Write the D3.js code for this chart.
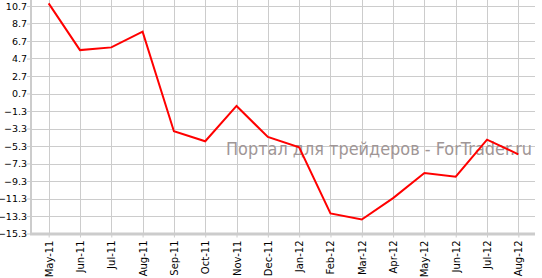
<!DOCTYPE html>
<html>
<head>
<meta charset="utf-8">
<script src="https://cdn.jsdelivr.net/npm/d3@7"></script>
<style>
  body { margin: 0; background: #fff; }
  svg { display: block; }
</style>
</head>
<body>
<div id="chart"></div>
<script>
const width = 542;
const height = 278;

// data
const months = ["May-11", "Jun-11", "Jul-11", "Aug-11", "Sep-11", "Oct-11", "Nov-11", "Dec-11",
  "Jan-12", "Feb-12", "Mar-12", "Apr-12", "May-12", "Jun-12", "Jul-12", "Aug-12"];
const values = [11.0, 5.66, 5.97, 7.76, -3.62, -4.76, -0.72, -4.27,
  -5.45, -13.01, -13.7, -11.26, -8.38, -8.81, -4.57, -6.25];
const yTicks = [10.7, 8.7, 6.7, 4.7, 2.7, 0.7, -1.3, -3.3, -5.3, -7.3, -9.3, -11.3, -13.3, -15.3];
const watermark = "Портал для трейдеров - ForTrader.ru";

const plotLeft = 31, plotRight = 535, plotTop = 6, plotBottom = 233.5;

const svg = d3.select("#chart")
  .append("svg")
  .attr("width", width)
  .attr("height", height);

const x = d3.scalePoint()
  .domain(months)
  .range([33, 534])
  .padding(0.5);

const y = d3.scaleLinear()
  .domain([-15.3, 10.7])
  .range([plotBottom, plotTop]);

// horizontal grid
svg.append("g")
  .selectAll("line")
  .data(yTicks)
  .enter().append("line")
  .attr("x1", plotLeft)
  .attr("x2", plotRight)
  .attr("y1", d => Math.round(y(d)) + 0.5)
  .attr("y2", d => Math.round(y(d)) + 0.5)
  .style("stroke", "#cccccc");

// vertical grid
svg.append("g")
  .selectAll("line")
  .data(months)
  .enter().append("line")
  .attr("x1", d => Math.round(x(d)) + 0.5)
  .attr("x2", d => Math.round(x(d)) + 0.5)
  .attr("y1", 0)
  .attr("y2", plotBottom)
  .style("stroke", "#cccccc");

// y axis
const yAxis = d3.axisLeft(y)
  .tickValues(yTicks)
  .tickFormat(d3.format(".1f"))
  .tickSize(4)
  .tickPadding(0);

const gy = svg.append("g")
  .attr("transform", `translate(${plotLeft},0)`)
  .call(yAxis);
gy.select(".domain").remove();
gy.selectAll(".tick line").style("stroke", "#cccccc");
gy.selectAll(".tick text")
  .style("font-family", "'DejaVu Sans', Verdana, sans-serif")
  .style("font-size", "9.5px")
  .style("fill", "#000");

gy.append("line")
  .attr("x1", 0).attr("x2", 0)
  .attr("y1", 0).attr("y2", plotBottom + 1)
  .style("stroke", "#cccccc")
  .style("stroke-width", 2);

// x axis
const xAxis = d3.axisBottom(x)
  .tickSize(4)
  .tickPadding(3);

const gx = svg.append("g")
  .attr("transform", `translate(0,${plotBottom})`)
  .call(xAxis);
gx.select(".domain").remove();
gx.selectAll(".tick line").style("stroke", "#cccccc");
gx.selectAll(".tick text")
  .style("font-family", "'DejaVu Sans', Verdana, sans-serif")
  .style("font-size", "10px")
  .style("fill", "#000")
  .attr("text-anchor", "end")
  .attr("transform", "rotate(-90)")
  .attr("x", -7)
  .attr("y", 0)
  .attr("dy", "0.35em");

gx.append("line")
  .attr("x1", plotLeft - 1).attr("x2", plotRight)
  .attr("y1", 0.5).attr("y2", 0.5)
  .style("stroke", "#cccccc")
  .style("stroke-width", 3);

// watermark
svg.append("text")
  .attr("x", 226)
  .attr("y", 155)
  .attr("textLength", 306)
  .attr("lengthAdjust", "spacingAndGlyphs")
  .style("font-family", "'DejaVu Sans', Verdana, sans-serif")
  .style("font-size", "17px")
  .style("fill", "#a09696")
  .text(watermark);

// the line
const line = d3.line()
  .x((d, i) => x(months[i]))
  .y(d => y(d));

svg.append("path")
  .datum(values)
  .attr("d", line)
  .style("fill", "none")
  .style("stroke", "#ff0000")
  .style("stroke-width", 2);
</script>
</body>
</html>
